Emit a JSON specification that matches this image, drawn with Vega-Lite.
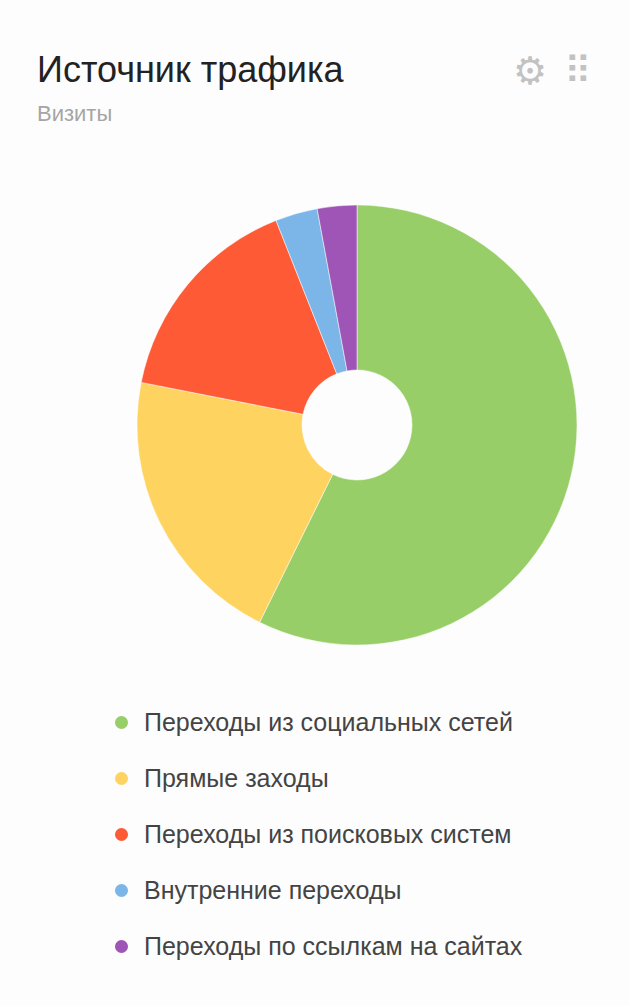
{"$schema":"https://vega.github.io/schema/vega-lite/v6.json","width":440,"height":440,"autosize":"none","padding":{"left":137,"top":205,"right":52,"bottom":361},"background":"#fdfdfd","view":{"stroke":null},"title":{"text":"Источник трафика","subtitle":"Визиты","anchor":"start","frame":"group","dx":-100,"offset":-72,"font":"Liberation Sans","fontSize":36,"fontWeight":"normal","color":"#222222","subtitleFont":"Liberation Sans","subtitleFontSize":22,"subtitleColor":"#a5a5a5","subtitlePadding":14},"layer":[{"data":{"values":[{"source":"Переходы из социальных сетей","share":57.3,"rank":1},{"source":"Прямые заходы","share":20.8,"rank":2},{"source":"Переходы из поисковых систем","share":15.9,"rank":3},{"source":"Внутренние переходы","share":3.1,"rank":4},{"source":"Переходы по ссылкам на сайтах","share":2.9,"rank":5}]},"mark":{"type":"arc","innerRadius":55,"outerRadius":220,"stroke":"#ffffff","strokeWidth":0.5},"encoding":{"theta":{"field":"share","type":"quantitative","stack":true},"order":{"field":"rank","type":"ordinal"},"color":{"field":"source","type":"nominal","sort":["Переходы из социальных сетей","Прямые заходы","Переходы из поисковых систем","Внутренние переходы","Переходы по ссылкам на сайтах"],"scale":{"domain":["Переходы из социальных сетей","Прямые заходы","Переходы из поисковых систем","Внутренние переходы","Переходы по ссылкам на сайтах"],"range":["#98ce67","#fed35f","#fe5a36","#7cb6e8","#9e55b5"]},"legend":{"orient":"none","legendX":-28,"legendY":503,"title":null,"symbolType":"circle","symbolSize":170,"symbolStrokeWidth":0,"labelFont":"Liberation Sans","labelFontSize":25,"labelColor":"#444444","labelLimit":450,"rowPadding":27,"labelOffset":10,"clipHeight":29}}}},{"data":{"values":[{"icon":"⚙","slot":"gear","row":"top"},{"icon":"⠿","slot":"grid","row":"top"}]},"mark":{"type":"text","font":"DejaVu Sans","fontSize":38,"color":"#c2c2c2","baseline":"middle","align":"center","clip":false},"encoding":{"text":{"field":"icon","type":"nominal"},"x":{"field":"slot","type":"nominal","axis":null,"scale":{"type":"point","domain":["gear","grid"],"range":[393,441],"padding":0}},"y":{"field":"row","type":"nominal","axis":null,"scale":{"type":"point","domain":["top"],"range":[-132,-132],"padding":0}}}}],"resolve":{"scale":{"color":"independent"}}}
